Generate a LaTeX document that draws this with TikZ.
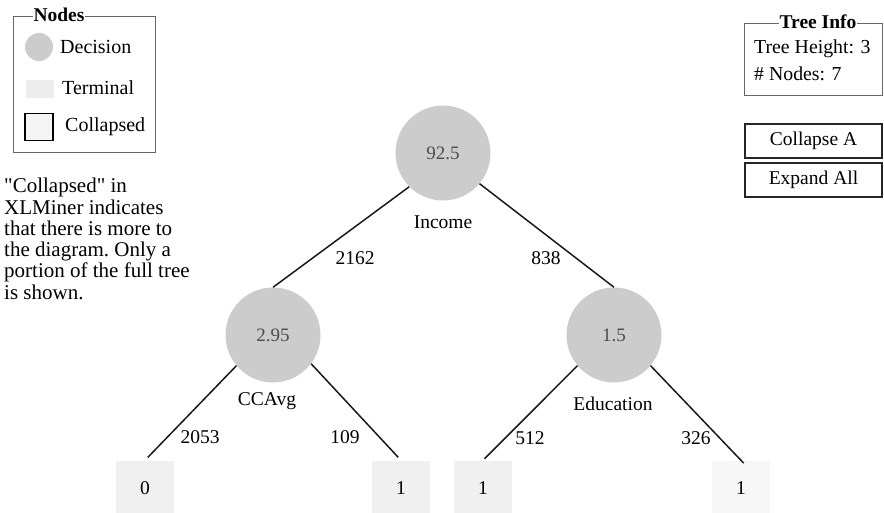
\documentclass[tikz,border=0pt]{standalone}
\usepackage{fontspec}
\setmainfont{Liberation Serif}
\begin{document}
\begin{tikzpicture}[x=1pt,y=-1pt,
  txt/.style={font=\fontsize{19.5}{21}\selectfont, inner sep=1pt},
  dec/.style={circle, fill=black!20, minimum size=95pt, inner sep=0pt,
    font=\fontsize{19}{21}\selectfont, text=black!70},
  leaf/.style={rectangle, fill=black!6, minimum width=58pt, minimum height=55pt,
    inner sep=0pt, font=\fontsize{19.5}{21}\selectfont},
  edge/.style={draw=black!90, line width=1.5pt},
  frame/.style={draw=black!60, line width=0.8pt},
  ttl/.style={font=\bfseries\fontsize{19.5}{21}\selectfont, fill=white, inner sep=1pt},
  btn/.style={draw=black!85, line width=1.1pt, minimum width=137pt, minimum height=34pt,
    font=\fontsize{19.5}{21}\selectfont}
]
\useasboundingbox (0,0) rectangle (884,513);

% ---- legend ----
\draw[frame] (13,16) rectangle (155,152);
\node[ttl] (ltitle) at (59,15) {Nodes};
\node[circle, fill=black!20, minimum size=28pt, inner sep=0pt] (ldec) at (39,47) {};
\node[txt, anchor=west, font=\fontsize{20}{21}\selectfont] (ldect) at (59,47) {Decision};
\node[rectangle, fill=black!7, minimum width=28pt, minimum height=18pt, inner sep=0pt] (lterm) at (40,89) {};
\node[txt, anchor=west, font=\fontsize{20}{21}\selectfont] (ltermt) at (61,88) {Terminal};
\node[rectangle, draw=black, line width=1.4pt, fill=black!4, minimum width=28pt, minimum height=27pt, inner sep=0pt] (lcol) at (39,127) {};
\node[txt, anchor=west, font=\fontsize{20}{21}\selectfont] (lcolt) at (64,127) {Collapsed};

% ---- note ----
\node[anchor=north west, align=left, inner sep=0pt, font=\fontsize{21}{21.3}\selectfont\frenchspacing] (note) at (4,178)
 {\textquotedbl Collapsed\textquotedbl{} in\\XLMiner indicates\\that there is more to\\the diagram. Only a\\portion of the full tree\\is shown.};

% ---- tree info ----
\draw[frame] (744,23) rectangle (882,95);
\node[ttl] (ititle) at (818,22) {Tree Info};
\node[txt, anchor=west, font=\fontsize{19.8}{21}\selectfont] (iheight) at (753,49) {Tree Height: 3};
\node[txt, anchor=west, font=\fontsize{19.8}{21}\selectfont] (inodes) at (753,74) {\# Nodes: 7};

\node[btn] (bcol) at (813.5,141) {Collapse A};
\node[btn] (bexp) at (813.5,180) {Expand All};

% ---- tree ----
\node[dec] (root) at (443,153) {92.5};
\node[dec] (cc) at (273,335) {2.95};
\node[dec] (ed) at (614,335) {1.5};

\node[txt] (rootl) at (443,222) {Income};
\node[txt] (ccl) at (267,401) {CCAvg};
\node[txt] (edl) at (613,404) {Education};

\node[leaf] (l1) at (145,488) {0};
\node[leaf] (l2) at (401,488) {1};
\node[leaf] (l3) at (483,488) {1};
\node[leaf, fill=black!3] (l4) at (741,488) {1};

\draw[edge] (root.225) -- (cc.north);
\draw[edge] (root.-40) -- (ed.north);
\draw[edge, shorten >=4pt] (cc.220) -- (l1.north);
\draw[edge, shorten >=4pt] (cc.-37) -- (l2.north);
\draw[edge, shorten >=2pt] (ed.220) -- (l3.north);
\draw[edge, shorten >=-4pt] (ed.-40) -- (l4.north);

\node[txt] (e1) at (355,258) {2162};
\node[txt] (e2) at (546,258) {838};
\node[txt] (e3) at (200,437) {2053};
\node[txt] (e4) at (345,437) {109};
\node[txt] (e5) at (530,438) {512};
\node[txt] (e6) at (696,438) {326};
\end{tikzpicture}
\end{document}
